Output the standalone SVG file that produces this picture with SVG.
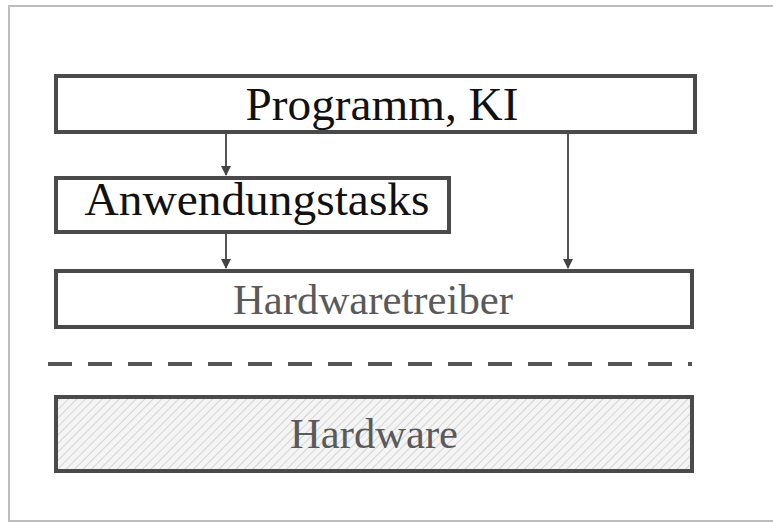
<svg xmlns="http://www.w3.org/2000/svg" width="773" height="524" viewBox="0 0 773 524">
<style>
.box{fill:#fff;stroke:#4a4a4a;stroke-width:4}
.conn{stroke:#555;stroke-width:2;fill:none}
.t{font-family:"Liberation Serif","Times New Roman",serif;text-anchor:middle}
.dark{fill:#111}
.gray{fill:#5a5a5a}
</style>
<defs>
<marker id="ah" markerWidth="10" markerHeight="10" refX="9" refY="5" orient="auto" markerUnits="userSpaceOnUse" viewBox="0 0 10 10">
<path d="M0,0 L10,5 L0,10 z" fill="#444"/>
</marker>
<pattern id="hatch" width="6" height="6" patternUnits="userSpaceOnUse" patternTransform="rotate(45)">
<rect width="6" height="6" fill="#f4f4f4"/>
<line x1="0" y1="0" x2="0" y2="6" stroke="#c8c8c8" stroke-width="1.5"/>
</pattern>
</defs>
<rect width="773" height="524" fill="#fff"/>
<path d="M773,6 L9,6 L9,521 L773,521" fill="none" stroke="#bdbdbd" stroke-width="2"/>
<g id="programm">
<rect class="box" x="56" y="76" width="639" height="56"/>
<text class="t dark" x="382" y="120" font-size="46" textLength="273" lengthAdjust="spacingAndGlyphs">Programm, KI</text>
</g>
<g id="anwendungstasks">
<rect class="box" x="56" y="178" width="393" height="54"/>
<text class="t dark" x="257" y="215" font-size="46" textLength="345" lengthAdjust="spacingAndGlyphs">Anwendungstasks</text>
</g>
<g id="hardwaretreiber">
<rect class="box" x="56" y="271" width="636" height="56"/>
<text class="t gray" x="373" y="314" font-size="42" textLength="280" lengthAdjust="spacingAndGlyphs">Hardwaretreiber</text>
</g>
<g id="hardware">
<rect class="box" x="56" y="397" width="636" height="74" style="fill:url(#hatch)"/>
<text class="t gray" x="374" y="448" font-size="42" textLength="168" lengthAdjust="spacingAndGlyphs">Hardware</text>
</g>
<g id="connectors">
<line class="conn" x1="226" y1="134" x2="226" y2="175" marker-end="url(#ah)"/>
<line class="conn" x1="226" y1="234" x2="226" y2="268" marker-end="url(#ah)"/>
<line class="conn" x1="568" y1="134" x2="568" y2="268" marker-end="url(#ah)"/>
<line x1="48" y1="364" x2="692" y2="364" stroke="#555" stroke-width="4" stroke-dasharray="24,16"/>
</g>
</svg>
